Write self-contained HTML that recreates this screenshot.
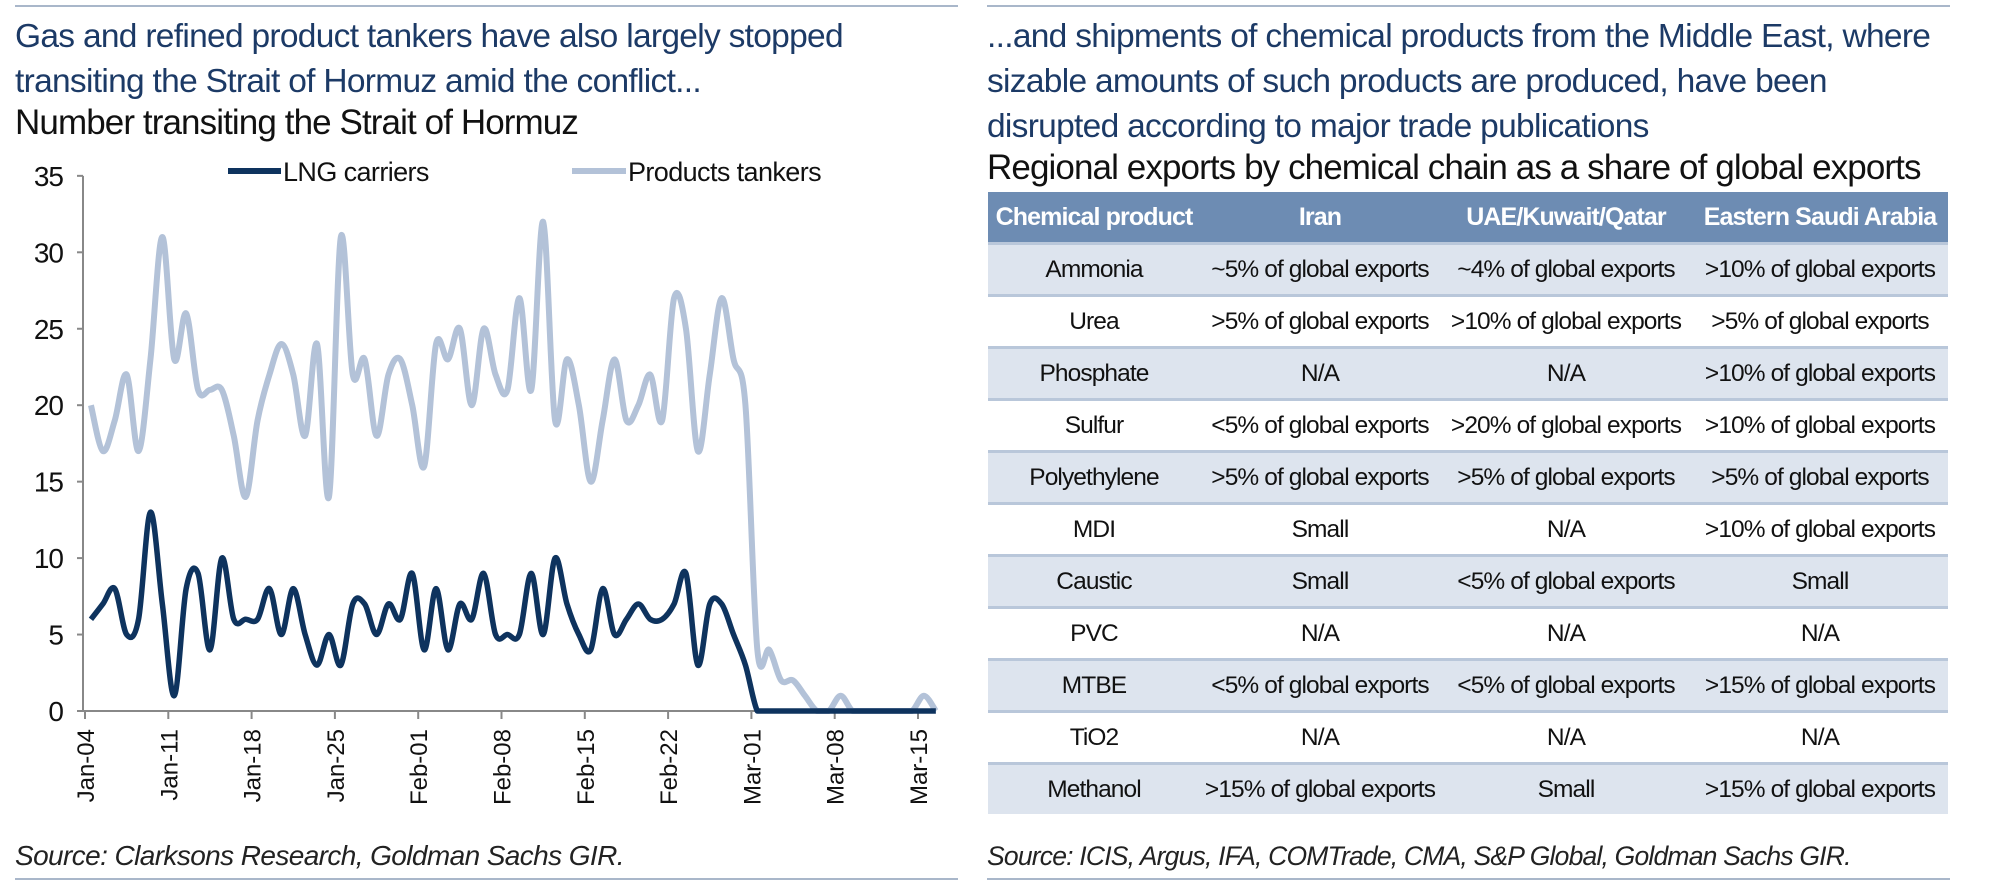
<!DOCTYPE html>
<html><head><meta charset="utf-8"><style>
body{margin:0;width:2000px;height:893px;background:#fff;position:relative;overflow:hidden;font-family:"Liberation Sans",sans-serif}
.abs{position:absolute;white-space:nowrap}
.t{color:#1c3a66;font-size:33.5px;letter-spacing:-0.7px}
.sub{color:#111;font-size:35px;letter-spacing:-0.9px}
.src{font-style:italic;font-size:28px;color:#222;letter-spacing:-0.6px}
.rule{position:absolute;height:2px;background:#a9b7ca}
table{position:absolute;left:988px;top:192px;width:960px;border-collapse:collapse;table-layout:fixed;font-size:24.5px;letter-spacing:-0.9px;color:#111}
th{background:#6d8cb3;color:#fff;height:50px;font-weight:bold;text-align:center;padding:0;font-size:25px}
td{height:49px;text-align:center;padding:0;border-top:3px solid #b9c7da}
tr.s td{background:#dde4ee}
</style></head><body>
<div class="rule" style="left:15px;top:5px;width:943px"></div>
<div class="rule" style="left:987px;top:5px;width:963px"></div>
<div class="abs t" style="left:15px;top:14px;line-height:45px">Gas and refined product tankers have also largely stopped<br>transiting the Strait of Hormuz amid the conflict...</div>
<div class="abs sub" style="left:15px;top:103px">Number transiting the Strait of Hormuz</div>
<div class="abs t" style="left:987px;top:14px;line-height:45px">...and shipments of chemical products from the Middle East, where<br>sizable amounts of such products are produced, have been<br>disrupted according to major trade publications</div>
<div class="abs sub" style="left:987px;top:148px">Regional exports by chemical chain as a share of global exports</div>

<svg id="chart" style="position:absolute;left:0;top:0" width="980" height="840"></svg>

<table>
<colgroup><col style="width:212px"><col style="width:240px"><col style="width:252px"><col style="width:256px"></colgroup>
<tr><th>Chemical product</th><th>Iran</th><th>UAE/Kuwait/Qatar</th><th>Eastern Saudi Arabia</th></tr>
<tr class="s"><td>Ammonia</td><td>~5% of global exports</td><td>~4% of global exports</td><td>&gt;10% of global exports</td></tr>
<tr><td>Urea</td><td>&gt;5% of global exports</td><td>&gt;10% of global exports</td><td>&gt;5% of global exports</td></tr>
<tr class="s"><td>Phosphate</td><td>N/A</td><td>N/A</td><td>&gt;10% of global exports</td></tr>
<tr><td>Sulfur</td><td>&lt;5% of global exports</td><td>&gt;20% of global exports</td><td>&gt;10% of global exports</td></tr>
<tr class="s"><td>Polyethylene</td><td>&gt;5% of global exports</td><td>&gt;5% of global exports</td><td>&gt;5% of global exports</td></tr>
<tr><td>MDI</td><td>Small</td><td>N/A</td><td>&gt;10% of global exports</td></tr>
<tr class="s"><td>Caustic</td><td>Small</td><td>&lt;5% of global exports</td><td>Small</td></tr>
<tr><td>PVC</td><td>N/A</td><td>N/A</td><td>N/A</td></tr>
<tr class="s"><td>MTBE</td><td>&lt;5% of global exports</td><td>&lt;5% of global exports</td><td>&gt;15% of global exports</td></tr>
<tr><td>TiO2</td><td>N/A</td><td>N/A</td><td>N/A</td></tr>
<tr class="s"><td>Methanol</td><td>&gt;15% of global exports</td><td>Small</td><td>&gt;15% of global exports</td></tr>
</table>

<div class="abs src" style="left:15px;top:840px">Source: Clarksons Research, Goldman Sachs GIR.</div>
<div class="abs src" style="left:987px;top:841px;font-size:26.5px;letter-spacing:-0.8px">Source: ICIS, Argus, IFA, COMTrade, CMA, S&amp;P Global, Goldman Sachs GIR.</div>
<div class="rule" style="left:15px;top:878px;width:943px"></div>
<div class="rule" style="left:987px;top:878px;width:963px"></div>

<script>
const yTicks=[0,5,10,15,20,25,30,35];
const xTickLabels=["Jan-04","Jan-11","Jan-18","Jan-25","Feb-01","Feb-08","Feb-15","Feb-22","Mar-01","Mar-08","Mar-15"];
const xTickDays=[0,7,14,21,28,35,42,49,56,63,70];
const lngCarriers=[6,7,8,5,6,13,7,1,8,9,4,10,6,6,6,8,5,8,5,3,5,3,7,7,5,7,6,9,4,8,4,7,6,9,5,5,5,9,5,10,7,5,4,8,5,6,7,6,6,7,9,3,7,7,5,3,0,0,0,0,0,0,0,0,0,0,0,0,0,0,0,0];
const productsTankers=[20,17,19,22,17,23,31,23,26,21,21,21,18,14,19,22,24,22,18,24,14,31,22,23,18,22,23,20,16,24,23,25,20,25,22,21,27,21,32,19,23,20,15,19,23,19,20,22,19,27,25,17,22,27,23,20,4,4,2,2,1,0,0,1,0,0,0,0,0,0,1,0];

const svg=document.getElementById('chart');
const NS='http://www.w3.org/2000/svg';
const X0=85,DAY=11.9,Y0=711,YPER=15.29;
const xDay=d=>X0+d*DAY;
const xPt=i=>X0+(i+0.5)*DAY;
const yv=v=>Y0-v*YPER;
function mk(tag,attrs){const e=document.createElementNS(NS,tag);for(const k in attrs)e.setAttribute(k,attrs[k]);svg.appendChild(e);return e;}

const ax=mk('line',{x1:X0-2,y1:yv(35),x2:X0-2,y2:Y0,stroke:'#888','stroke-width':2});


const bx=mk('line',{x1:X0-2,y1:Y0,x2:932,y2:Y0,stroke:'#888','stroke-width':2});



yTicks.forEach(v=>{
  mk('line',{x1:X0-8,y1:yv(v),x2:X0-2,y2:yv(v),stroke:'#888','stroke-width':2});
  const t=mk('text',{x:X0-22,y:yv(v)+10,'text-anchor':'end','font-size':28,fill:'#111','font-family':'Liberation Sans','letter-spacing':'-1'});
  t.textContent=v;
  
  
});
xTickDays.forEach((d,i)=>{
  mk('line',{x1:xDay(d),y1:Y0,x2:xDay(d),y2:Y0+8,stroke:'#888','stroke-width':2});
  const t=mk('text',{x:0,y:0,'text-anchor':'end','font-size':24,fill:'#111','font-family':'Liberation Sans',transform:`translate(${xDay(d)+9},${Y0+18}) rotate(-90)`});
  t.textContent=xTickLabels[i];
  
  
});

function smooth(vals){
  const p=vals.map((v,i)=>[xPt(i),yv(v)]);
  let d=`M${p[0][0]},${p[0][1]}`;
  for(let i=0;i<p.length-1;i++){
    const a=p[i-1]||p[i],b=p[i],c=p[i+1],e=p[i+2]||c;
    const c1=[b[0]+(c[0]-a[0])/6,b[1]+(c[1]-a[1])/6],c2=[c[0]-(e[0]-b[0])/6,c[1]-(e[1]-b[1])/6];
    d+=` C${c1[0]},${Math.min(c1[1],Y0)} ${c2[0]},${Math.min(c2[1],Y0)} ${c[0]},${c[1]}`;
  }
  return d;
}
const pl=mk('path',{d:smooth(productsTankers),fill:'none',stroke:'#b3c2d8','stroke-width':6,'stroke-linejoin':'round'});


const ll=mk('path',{d:smooth(lngCarriers),fill:'none',stroke:'#0e335e','stroke-width':5.5,'stroke-linejoin':'round'});



const l1=mk('line',{x1:228,y1:171,x2:281,y2:171,stroke:'#0e335e','stroke-width':6});


const t1=mk('text',{x:283,y:181,'font-size':27,fill:'#111','font-family':'Liberation Sans','letter-spacing':'-0.6'});
t1.textContent='LNG carriers';


const l2=mk('line',{x1:572,y1:171,x2:626,y2:171,stroke:'#b3c2d8','stroke-width':6});


const t2=mk('text',{x:628,y:181,'font-size':27,fill:'#111','font-family':'Liberation Sans','letter-spacing':'-0.6'});
t2.textContent='Products tankers';


</script>
</body></html>
